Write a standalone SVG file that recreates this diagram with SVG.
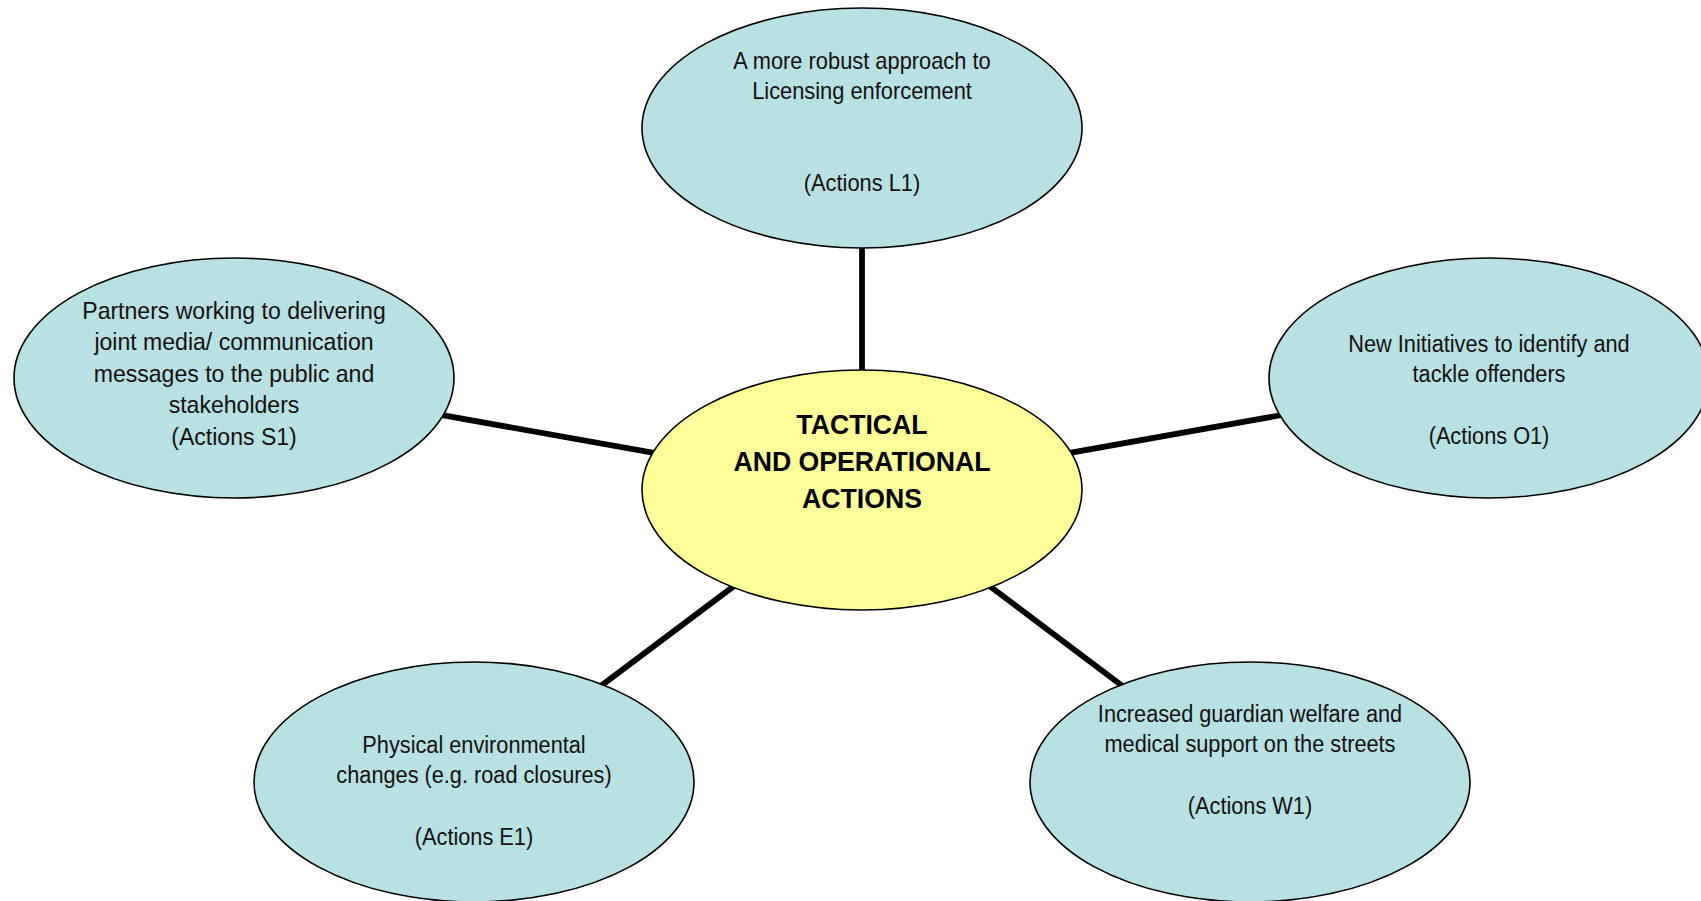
<svg xmlns="http://www.w3.org/2000/svg" width="1701" height="901" viewBox="0 0 1701 901">
<style>
.bg{fill:#ffffff}
.node{fill:#B9E0E3;stroke:#000;stroke-width:1.6}
.core{fill:#FFFF99;stroke:#000;stroke-width:1.6}
.conn line{stroke:#000;stroke-width:5.8}
.t{font-family:"Liberation Sans",Arial,sans-serif;font-size:23px;fill:#111;text-anchor:middle}
.tl{font-size:24.4px}
.b{font-family:"Liberation Sans",Arial,sans-serif;font-size:28px;font-weight:bold;fill:#000;text-anchor:middle}
</style>
<rect class="bg" x="0" y="0" width="1701" height="901"/>
<g id="connectors" class="conn">
<line x1="862" y1="490" x2="862" y2="128"/>
<line x1="862" y1="490" x2="234" y2="378"/>
<line x1="862" y1="490" x2="1489" y2="378"/>
<line x1="862" y1="490" x2="474" y2="781"/>
<line x1="862" y1="490" x2="1250" y2="782"/>
</g>
<g id="node-center">
<ellipse class="core" cx="862" cy="490" rx="220" ry="120"/>
<g transform="translate(862 0) scale(0.953 1)">
<text class="b" x="0" y="434">TACTICAL</text>
<text class="b" x="0" y="471">AND OPERATIONAL</text>
<text class="b" x="0" y="508">ACTIONS</text>
</g>
</g>
<g id="node-licensing">
<ellipse class="node" cx="862" cy="128" rx="220" ry="120"/>
<g transform="translate(862 0) scale(0.95 1)">
<text class="t" x="0" y="69">A more robust approach to</text>
<text class="t" x="0" y="99">Licensing enforcement</text>
<text class="t" x="0" y="191">(Actions L1)</text>
</g>
</g>
<g id="node-media">
<ellipse class="node" cx="234" cy="378" rx="220" ry="120"/>
<g transform="translate(234 0) scale(0.945 1)">
<text class="t tl" x="0" y="319">Partners working to delivering</text>
<text class="t tl" x="0" y="350">joint media/ communication</text>
<text class="t tl" x="0" y="382">messages to the public and</text>
<text class="t tl" x="0" y="413">stakeholders</text>
<text class="t tl" x="0" y="445">(Actions S1)</text>
</g>
</g>
<g id="node-offenders">
<ellipse class="node" cx="1489" cy="378" rx="220" ry="120"/>
<g transform="translate(1489 0) scale(0.945 1)">
<text class="t" x="0" y="352">New Initiatives to identify and</text>
<text class="t" x="0" y="382">tackle offenders</text>
<text class="t" x="0" y="444">(Actions O1)</text>
</g>
</g>
<g id="node-environmental">
<ellipse class="node" cx="474" cy="782" rx="220" ry="120"/>
<g transform="translate(474 0) scale(0.945 1)">
<text class="t" x="0" y="753">Physical environmental</text>
<text class="t" x="0" y="783">changes (e.g. road closures)</text>
<text class="t" x="0" y="845">(Actions E1)</text>
</g>
</g>
<g id="node-welfare">
<ellipse class="node" cx="1250" cy="782" rx="220" ry="120"/>
<g transform="translate(1250 0) scale(0.945 1)">
<text class="t" x="0" y="722">Increased guardian welfare and</text>
<text class="t" x="0" y="752">medical support on the streets</text>
<text class="t" x="0" y="814">(Actions W1)</text>
</g>
</g>
</svg>
